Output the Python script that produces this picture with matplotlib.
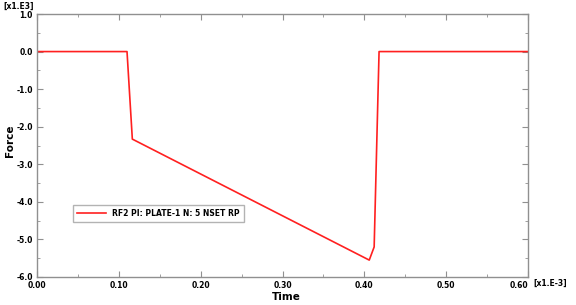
import matplotlib
matplotlib.use("Agg")
import matplotlib.pyplot as plt
from matplotlib.ticker import MultipleLocator

time = [0.0, 0.110, 0.1165, 0.406, 0.412, 0.418, 0.60]
force = [0.0, 0.0, -2.33, -5.55, -5.2, 0.0, 0.0]
xticks = [0.0, 0.1, 0.2, 0.3, 0.4, 0.5, 0.6]
yticks = [1.0, 0.0, -1.0, -2.0, -3.0, -4.0, -5.0, -6.0]
label = "RF2 PI: PLATE-1 N: 5 NSET RP"

fs = 5.5
fig = plt.figure(figsize=(5.76, 3.05), dpi=100)
ax = fig.add_axes([37/576, 1-277/305, (528-37)/576, (277-14)/305])
ax.plot(time, force, color="#ff2020", lw=1.2, label=label)
ax.set_xlim(0, 0.6)
ax.set_ylim(-6, 1)
ax.set_xticks(xticks)
ax.set_yticks(yticks)
ax.set_xticklabels([f"{v:.2f}" for v in xticks])
ax.set_yticklabels([f"{v:.1f}" for v in yticks])
ax.xaxis.set_minor_locator(MultipleLocator(0.05))
ax.yaxis.set_minor_locator(MultipleLocator(0.5))
ax.tick_params(which="both", direction="in", top=True, right=True, color="#909090",
               labelsize=fs)
ax.tick_params(axis="x", pad=3)
ax.tick_params(axis="y", pad=3)
ax.tick_params(which="major", length=4)
ax.tick_params(which="minor", length=2)
for lab in ax.get_xticklabels() + ax.get_yticklabels():
    lab.set_fontweight("bold")
ax.get_xticklabels()[-1].set_horizontalalignment("right")
for s in ax.spines.values():
    s.set_color("#909090")
    s.set_linewidth(1.0)
ax.set_xlabel("Time", fontsize=7.5, fontweight="bold", va="center")
ax.xaxis.set_label_coords((286-37)/491, -(297-277)/263)
ax.set_ylabel("Force", fontsize=7.5, fontweight="bold", va="center")
ax.yaxis.set_label_coords(-(37-10)/491, (277-141)/263)
fig.text(3/576, 1-6/305, "[x1.E3]", fontsize=fs, fontweight="bold", va="center", ha="left")
fig.text(533/576, 1-283/305, "[x1.E-3]", fontsize=fs, fontweight="bold", va="center", ha="left")
leg = ax.legend(loc="lower left", bbox_to_anchor=((73-37)/491, (277-222)/263),
                fontsize=fs, frameon=True, fancybox=False, handlelength=3.8,
                borderpad=0.55, borderaxespad=0)
leg.get_frame().set_edgecolor("#a0a0a0")
leg.get_frame().set_linewidth(1.0)
for t in leg.get_texts():
    t.set_fontweight("bold")
fig.savefig("out.png", dpi=100)
